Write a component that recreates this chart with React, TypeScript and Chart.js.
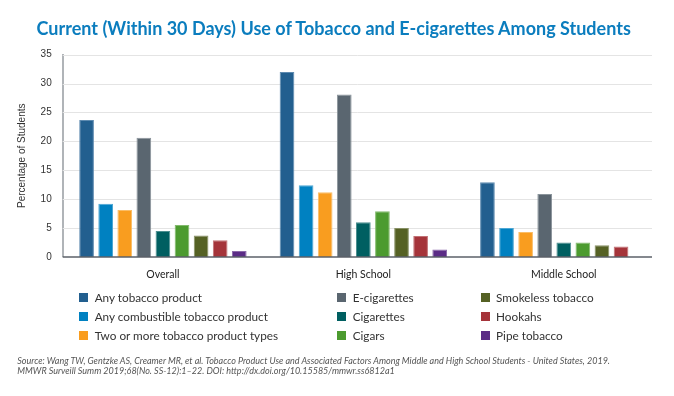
import React, { useEffect, useRef } from 'react';
import { Chart, registerables } from 'chart.js';
Chart.register(...registerables);

const titleText = 'Current (Within 30 Days) Use of Tobacco and E-cigarettes Among Students';
const yAxisTitle = 'Percentage of Students';
const categories = ['Overall', 'High School', 'Middle School'];

const anyTobacco = [23.7, 32.0, 12.9];
const anyCombustible = [9.2, 12.4, 5.0];
const twoOrMore = [8.1, 11.2, 4.3];
const eCigarettes = [20.6, 28.1, 10.9];
const cigarettes = [4.5, 6.0, 2.5];
const cigars = [5.5, 7.9, 2.5];
const smokeless = [3.7, 5.0, 2.0];
const hookahs = [2.9, 3.6, 1.8];
const pipeTobacco = [1.0, 1.3, null];

const seriesNames = [
  'Any tobacco product',
  'Any combustible tobacco product',
  'Two or more tobacco product types',
  'E-cigarettes',
  'Cigarettes',
  'Cigars',
  'Smokeless tobacco',
  'Hookahs',
  'Pipe tobacco',
];
const seriesValues = [anyTobacco, anyCombustible, twoOrMore, eCigarettes, cigarettes, cigars, smokeless, hookahs, pipeTobacco];
const seriesColors = ['#225f8f', '#0081c1', '#f99d1f', '#5a6670', '#005f61', '#4c9b2f', '#556124', '#a5343a', '#5b2c86'];
const seriesBorders = ['#5d8ab0', '#4da7d4', '#fbbd66', '#8a949b', '#4d8f90', '#82ba6c', '#889166', '#c27175', '#8c6aaa'];

const yMin = 0;
const yMax = 35;
const yStep = 5;

const sourceLines = [
  'Source: Wang TW, Gentzke AS, Creamer MR, et al. Tobacco Product Use and Associated Factors Among Middle and High School Students - United States, 2019.',
  'MMWR Surveill Summ 2019;68(No. SS-12):1\u201322. DOI: http://dx.doi.org/10.15585/mmwr.ss6812a1',
];

const legendColumns = [[0, 1, 2], [3, 4, 5], [6, 7, 8]];
const legendColLeft = [79.3, 337.3, 480.7];

export default function App() {
  const ref = useRef<HTMLCanvasElement>(null);

  useEffect(() => {
    if (!ref.current) return;
    const shortGrid = {
      id: 'shortGrid',
      beforeDatasetsDraw(chart: any) {
        const { ctx, chartArea, scales } = chart;
        const y = scales.y;
        const right = chartArea.right - 12;
        ctx.save();
        ctx.strokeStyle = '#e4e4e4';
        ctx.lineWidth = 1;
        y.ticks.forEach((t: any) => {
          if (t.value === yMin) return;
          const py = Math.round(y.getPixelForValue(t.value)) + 0.5;
          ctx.beginPath();
          ctx.moveTo(chartArea.left, py);
          ctx.lineTo(right, py);
          ctx.stroke();
        });
        ctx.restore();
      },
      afterDatasetsDraw(chart: any) {
        const { ctx, chartArea, scales } = chart;
        const y = scales.y;
        const py = y.getPixelForValue(yMin);
        ctx.save();
        ctx.strokeStyle = '#5b6168';
        ctx.lineWidth = 1.5;
        ctx.beginPath();
        ctx.moveTo(chartArea.left, py);
        ctx.lineTo(chartArea.right - 12, py);
        ctx.stroke();
        ctx.restore();
      },
    };

    const chart = new Chart(ref.current, {
      type: 'bar',
      data: {
        labels: categories,
        datasets: seriesNames.map((name, i) => ({
          label: name,
          data: seriesValues[i] as any,
          backgroundColor: seriesColors[i],
          borderColor: seriesBorders[i],
          borderWidth: 1,
          borderSkipped: 'start',
          categoryPercentage: 0.857,
          barPercentage: 0.77,
        })),
      },
      options: {
        responsive: false,
        animation: false,
        devicePixelRatio: 1,
        layout: { padding: { top: 54.6, bottom: 109.1, left: 0, right: 10 } },
        plugins: {
          legend: { display: false },
          title: { display: false },
          tooltip: { enabled: false },
        },
        scales: {
          x: {
            grid: { display: false, drawTicks: false },
            border: { display: false },
            ticks: {
              font: { family: 'Lato', size: 10.5 },
              color: '#222',
              padding: 11,
            },
            afterFit: (s: any) => { s.height = 30; },
          },
          y: {
            min: yMin,
            max: yMax,
            ticks: {
              stepSize: yStep,
              font: { family: 'Liberation Sans', size: 10 },
              color: '#333',
              padding: 11,
            },
            grid: { display: false, drawTicks: false },
            border: { display: true, color: '#b0b4b8', width: 2 },
            title: {
              display: true,
              text: yAxisTitle,
              font: { family: 'Liberation Sans', size: 10 },
              color: '#333',
              padding: { top: 16, bottom: 0 },
            },
            afterFit: (s: any) => { s.width = 62.7; },
          },
        },
      },
      plugins: [shortGrid],
    });
    return () => chart.destroy();
  }, []);

  return (
    <div style={{ position: 'fixed', left: 0, top: 0, width: 674, height: 396, background: '#fff', overflow: 'hidden' }}>
      <canvas ref={ref} width={674} height={396} style={{ position: 'absolute', left: 0, top: 0, width: 674, height: 396 }} />
      <div style={{
        position: 'absolute', left: 0, width: 667.4, top: 18.2, textAlign: 'center',
        fontFamily: 'Lato', fontWeight: 700, fontSize: 18, lineHeight: '21.6px', color: '#0b7dbe', whiteSpace: 'nowrap',
      }}>{titleText}</div>
      {legendColumns.map((col, ci) => col.map((si, ri) => (
        <div key={si} style={{
          position: 'absolute', left: legendColLeft[ci], top: 288.2 + ri * 19.1, height: 19, display: 'flex', alignItems: 'center',
          fontFamily: 'Lato', fontSize: 11.75, color: '#333', whiteSpace: 'nowrap',
        }}>
          <span style={{ display: 'inline-block', width: 9, height: 9, background: seriesColors[si], marginRight: 6.4 }} />
          <span>{seriesNames[si]}</span>
        </div>
      )))}
      <div style={{
        position: 'absolute', left: 17.3, top: 356.3, fontFamily: 'Lato', fontStyle: 'italic', fontSize: 9,
        lineHeight: '9.5px', color: '#555', whiteSpace: 'nowrap',
      }}>
        {sourceLines.map((l, i) => <div key={i}>{l}</div>)}
      </div>
    </div>
  );
}
